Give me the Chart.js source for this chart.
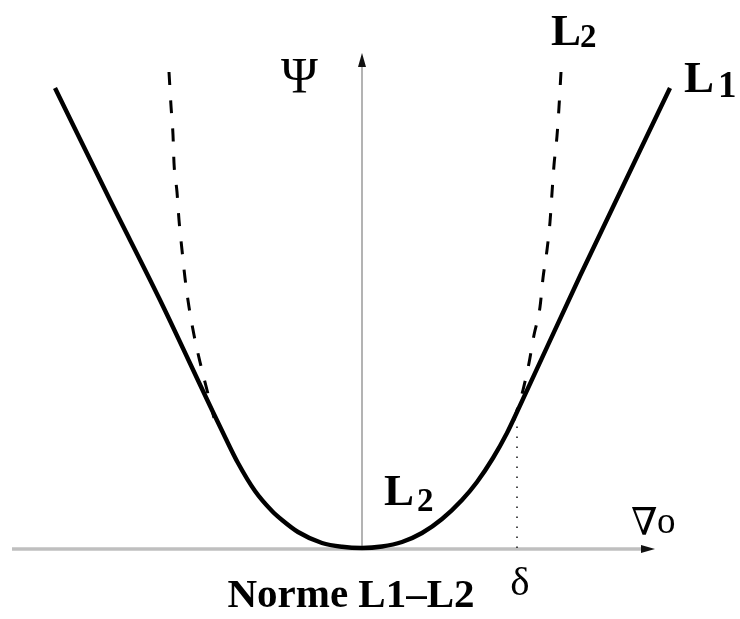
<!DOCTYPE html>
<html lang="fr">
<head>
<meta charset="UTF-8">
<title>Norme L1-L2</title>
<script src="https://cdn.jsdelivr.net/npm/chart.js@4"></script>
<style>
  html, body { margin: 0; padding: 0; background: #fff; }
  #wrap { width: 740px; height: 619px; position: relative; }
</style>
</head>
<body>
<div id="wrap"><canvas id="normChart"></canvas></div>
<script>
// L1-L2 (Huber-like) penalty psi(grad o): quadratic near 0, linear beyond delta
const normX = [-3.07, -2.52, -2.02, -1.50, -1.37, -1.24, -1.07, -0.90, -0.80, -0.64, -0.40, -0.20, 0,
               0.20, 0.40, 0.60, 0.80, 1.00, 1.15, 1.31, 1.45, 1.55, 2.18, 3.08];
const normY = [4.60, 3.48, 2.48, 1.38, 1.11, 0.85, 0.57, 0.37, 0.28, 0.16, 0.05, 0.012, 0,
               0.015, 0.06, 0.15, 0.29, 0.48, 0.66, 0.90, 1.15, 1.36, 2.72, 4.60];

// pure L2 continuation past delta (dashed), drawn top to bottom
const l2LeftX = [-1.93, -1.91, -1.89, -1.88, -1.85, -1.83, -1.80, -1.77, -1.73, -1.68, -1.62, -1.55, -1.48];
const l2LeftY = [4.76, 4.42, 4.13, 3.85, 3.56, 3.28, 2.98, 2.70, 2.41, 2.13, 1.86, 1.58, 1.30];
const l2RightX = [1.99, 1.97, 1.95, 1.92, 1.90, 1.88, 1.85, 1.81, 1.78, 1.72, 1.67, 1.61, 1.52];
const l2RightY = [4.76, 4.41, 4.12, 3.83, 3.55, 3.26, 2.98, 2.70, 2.41, 2.13, 1.85, 1.58, 1.28];

// threshold delta and psi(delta)
const deltaX = [1.55, 1.55];
const deltaY = [0, 1.23];

// axis extents (data units)
const axisXRange = [-3.50, 2.93];
const axisYTop = 4.95;

const pts = (xs, ys) => xs.map((x, i) => ({ x: x, y: ys[i] }));

const serif = '"Liberation Serif", "Times New Roman", serif';

// axes with arrowheads, behind the curves
const axesPlugin = {
  id: 'axes',
  beforeDatasetsDraw(chart) {
    const { ctx, scales: { x, y } } = chart;
    const x0 = x.getPixelForValue(0), y0 = y.getPixelForValue(0);
    const xa = x.getPixelForValue(axisXRange[0]), xb = x.getPixelForValue(axisXRange[1]);
    const yt = y.getPixelForValue(axisYTop);
    ctx.save();
    ctx.strokeStyle = '#bfbfbf';
    ctx.lineWidth = 3.5;
    ctx.beginPath();
    ctx.moveTo(xa, y0 + 1);
    ctx.lineTo(xb - 10, y0 + 1);
    ctx.stroke();
    ctx.strokeStyle = '#9a9a9a';
    ctx.lineWidth = 1.5;
    ctx.beginPath();
    ctx.moveTo(x0, y0);
    ctx.lineTo(x0, yt + 10);
    ctx.stroke();
    ctx.fillStyle = '#111';
    ctx.beginPath();
    ctx.moveTo(xb, y0 + 1);
    ctx.lineTo(xb - 14, y0 - 3);
    ctx.lineTo(xb - 14, y0 + 5);
    ctx.closePath();
    ctx.fill();
    ctx.beginPath();
    ctx.moveTo(x0, yt);
    ctx.lineTo(x0 - 4, yt + 14);
    ctx.lineTo(x0 + 4, yt + 14);
    ctx.closePath();
    ctx.fill();
    ctx.restore();
  }
};

// text labels, positioned in data units
const labelsPlugin = {
  id: 'labels',
  afterDatasetsDraw(chart) {
    const { ctx, scales: { x, y } } = chart;
    const px = v => x.getPixelForValue(v), py = v => y.getPixelForValue(v);
    const put = (t, vx, vy, font, align) => {
      ctx.font = font;
      ctx.textAlign = align || 'left';
      ctx.fillText(t, px(vx), py(vy));
    };
    ctx.save();
    ctx.fillStyle = '#000';
    ctx.textBaseline = 'alphabetic';
    put('\u03A8', -0.81, 4.56, '50px ' + serif);
    put('L', 1.89, 5.03, 'bold 45px ' + serif);
    put('2', 2.18, 5.01, 'bold 33px ' + serif);
    put('L', 3.22, 4.56, 'bold 45px ' + serif);
    put('1', 3.56, 4.51, 'bold 37px ' + serif);
    put('L', 0.22, 0.43, 'bold 45px ' + serif);
    put('2', 0.55, 0.37, 'bold 33px ' + serif);
    put('\u2207', 2.69, 0.13, '38px "DejaVu Serif", serif');
    put('o', 2.95, 0.15, '37px ' + serif);
    put('\u03B4', 1.58, -0.47, '41px ' + serif, 'center');
    put('Norme L1\u2013L2', -0.11, -0.59, 'bold 41px ' + serif, 'center');
    ctx.restore();
  }
};

new Chart(document.getElementById('normChart'), {
  type: 'line',
  data: {
    datasets: [
      { data: pts(normX, normY), borderColor: '#000', borderWidth: 4.4,
        cubicInterpolationMode: 'monotone', borderCapStyle: 'butt' },
      { data: pts(l2LeftX, l2LeftY), borderColor: '#000', borderWidth: 3,
        borderDash: [13, 15.3], cubicInterpolationMode: 'monotone' },
      { data: pts(l2RightX, l2RightY), borderColor: '#000', borderWidth: 3,
        borderDash: [13, 15.3], cubicInterpolationMode: 'monotone' },
      { data: pts(deltaX, deltaY), borderColor: '#222', borderWidth: 1.6,
        borderDash: [1.6, 8.4] }
    ]
  },
  options: {
    responsive: true,
    maintainAspectRatio: false,
    animation: false,
    layout: { padding: 0 },
    elements: { point: { radius: 0, hoverRadius: 0 } },
    plugins: { legend: { display: false }, tooltip: { enabled: false } },
    events: [],
    scales: {
      x: { type: 'linear', min: -3.62, max: 3.78, display: false },
      y: { type: 'linear', min: -0.71, max: 5.48, display: false }
    }
  },
  plugins: [axesPlugin, labelsPlugin]
});
</script>
</body>
</html>
